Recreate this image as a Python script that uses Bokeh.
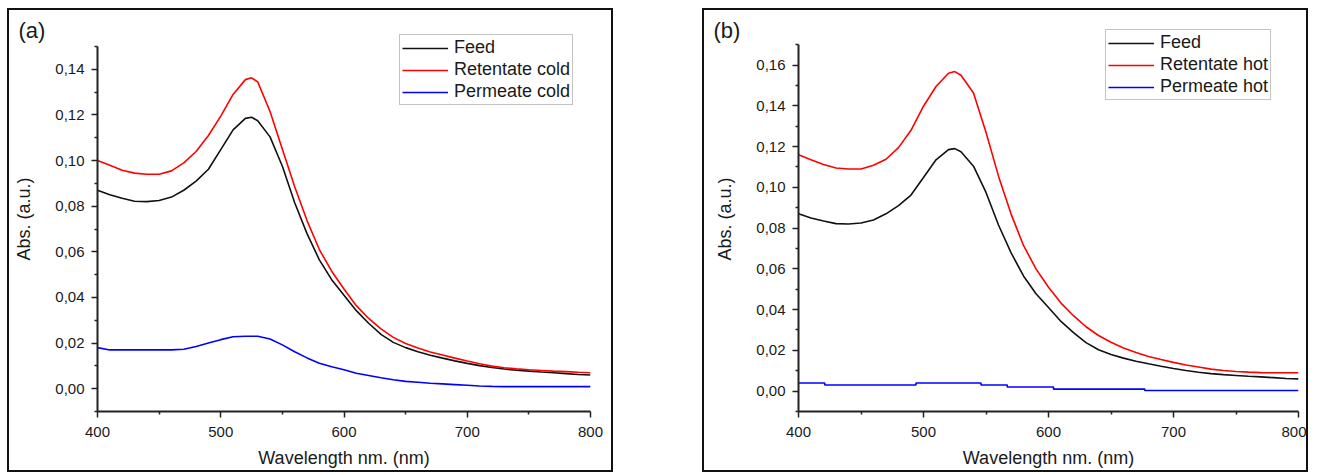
from bokeh.plotting import figure
from bokeh.layouts import row
from bokeh.models import (Range1d, Legend, LegendItem,
                          CustomJSTickFormatter, FixedTicker)
from bokeh.embed import file_html
from bokeh.resources import INLINE

# ---------------- data ----------------
wavelength = [400, 410, 420, 430, 440, 450, 460, 470, 480, 490, 500, 510, 520, 525,
              530, 540, 550, 560, 570, 580, 590, 600, 610, 620, 630, 640, 650, 660,
              670, 680, 690, 700, 710, 720, 730, 740, 750, 760, 770, 780, 790, 800]

feed = [0.0870, 0.0850, 0.0835, 0.0822, 0.0820, 0.0825, 0.0840, 0.0870, 0.0910, 0.0962,
        0.1048, 0.1135, 0.1185, 0.1190, 0.1175, 0.1104, 0.0975, 0.0815, 0.0680, 0.0565,
        0.0478, 0.0410, 0.0342, 0.0287, 0.0238, 0.0203, 0.0180, 0.0162, 0.0147, 0.0134,
        0.0122, 0.0111, 0.0101, 0.0093, 0.0086, 0.0081, 0.0077, 0.0073, 0.0070, 0.0066,
        0.0062, 0.0060]

retentate_cold = [0.1000, 0.0980, 0.0958, 0.0945, 0.0940, 0.0940, 0.0955, 0.0990, 0.1040,
                  0.1110, 0.1195, 0.1290, 0.1355, 0.1363, 0.1345, 0.1215, 0.1050, 0.0885,
                  0.0737, 0.0610, 0.0515, 0.0437, 0.0364, 0.0308, 0.0262, 0.0225, 0.0198,
                  0.0178, 0.0161, 0.0148, 0.0134, 0.0121, 0.0109, 0.0099, 0.0092, 0.0087,
                  0.0083, 0.0080, 0.0077, 0.0075, 0.0072, 0.0070]

permeate_cold = [0.0180, 0.0170, 0.0170, 0.0170, 0.0170, 0.0170, 0.0170, 0.0173, 0.0185,
                 0.0200, 0.0215, 0.0228, 0.0230, 0.0230, 0.0230, 0.0218, 0.0192, 0.0162,
                 0.0135, 0.0112, 0.0096, 0.0083, 0.0068, 0.0058, 0.0048, 0.0039, 0.0032,
                 0.0028, 0.0024, 0.0021, 0.0018, 0.0015, 0.0012, 0.0010, 0.0009, 0.0009,
                 0.0009, 0.0009, 0.0009, 0.0009, 0.0009, 0.0009]

retentate_hot = [0.1160, 0.1135, 0.1112, 0.1095, 0.1090, 0.1090, 0.1108, 0.1138, 0.1195,
                 0.1280, 0.1398, 0.1495, 0.1560, 0.1568, 0.1550, 0.1463, 0.1270, 0.1055,
                 0.0870, 0.0715, 0.0600, 0.0510, 0.0432, 0.0370, 0.0316, 0.0273, 0.0240,
                 0.0212, 0.0190, 0.0170, 0.0155, 0.0141, 0.0128, 0.0118, 0.0108, 0.0101,
                 0.0096, 0.0093, 0.0091, 0.0090, 0.0090, 0.0090]

permeate_hot_wl = [400, 421, 494, 546, 567, 604, 677, 800]
permeate_hot = [0.004, 0.003, 0.004, 0.003, 0.002, 0.001, 0.0003, 0.0003]

x_ticks = [400, 500, 600, 700, 800]
x_minor = [450, 550, 650, 750]
y_ticks_a = [0.00, 0.02, 0.04, 0.06, 0.08, 0.10, 0.12, 0.14]
y_minor_a = [-0.01, 0.01, 0.03, 0.05, 0.07, 0.09, 0.11, 0.13, 0.15]
y_ticks_b = [0.00, 0.02, 0.04, 0.06, 0.08, 0.10, 0.12, 0.14, 0.16]
y_minor_b = [-0.01, 0.01, 0.03, 0.05, 0.07, 0.09, 0.11, 0.13, 0.15, 0.17]

FONT = "Liberation Sans"
TXT = "#1a1a1a"


def make_panel(width, height, borders, y_axis_end, y_frame_end, yt, ym, tag, tag_offset,
               leg_loc, series, legend_labels):
    left, right, top, bottom = borders
    p = figure(width=width, height=height, output_backend="svg", toolbar_location=None,
               x_range=Range1d(400, 800), y_range=Range1d(-0.01, y_frame_end),
               min_border_left=left, min_border_right=right,
               min_border_top=top, min_border_bottom=bottom)
    p.outline_line_color = None
    p.xgrid.grid_line_color = None
    p.ygrid.grid_line_color = None
    p.styles = {"border": "2px solid #111"}

    p.xaxis.ticker = FixedTicker(ticks=x_ticks, minor_ticks=x_minor)
    p.yaxis.ticker = FixedTicker(ticks=yt, minor_ticks=ym)
    p.yaxis.bounds = (-0.01, y_axis_end)
    p.yaxis.formatter = CustomJSTickFormatter(code="return tick.toFixed(2).replace('.', ',');")

    for ax in (p.xaxis[0], p.yaxis[0]):
        ax.axis_line_width = 2
        ax.axis_line_color = "#222222"
        ax.major_tick_line_color = "#222222"
        ax.minor_tick_line_color = "#222222"
        ax.major_tick_line_width = 1.5
        ax.minor_tick_line_width = 1.5
        ax.major_tick_in = 0
        ax.major_tick_out = 6
        ax.minor_tick_in = 0
        ax.minor_tick_out = 3
        ax.major_label_text_font = FONT
        ax.major_label_text_font_size = "15px"
        ax.major_label_text_color = TXT
        ax.axis_label_text_font = FONT
        ax.axis_label_text_font_size = "18px"
        ax.axis_label_text_font_style = "normal"
        ax.axis_label_text_color = TXT
    p.xaxis.axis_label = "Wavelength nm. (nm)"
    p.yaxis.axis_label = "Abs. (a.u.)"
    p.xaxis.major_label_standoff = 9
    p.yaxis.major_label_standoff = 7
    p.xaxis.axis_label_standoff = 8
    p.yaxis.axis_label_standoff = 18

    p.title.text = tag
    p.title.align = "left"
    p.title.offset = tag_offset
    p.title.text_font = FONT
    p.title.text_font_size = "22px"
    p.title.text_font_style = "normal"
    p.title.text_color = TXT
    p.title.standoff = -32

    renderers = []
    for (xs, ys, color, kind) in series:
        if kind == "step":
            r = p.step(xs, ys, mode="after", line_color=color, line_width=1.6)
        else:
            r = p.line(xs, ys, line_color=color, line_width=1.6)
        renderers.append(r)

    legend = Legend(items=[LegendItem(label=l, renderers=[r])
                           for l, r in zip(legend_labels, renderers)],
                    location=leg_loc)
    legend.label_text_font = FONT
    legend.label_text_font_size = "18px"
    legend.label_text_color = TXT
    legend.glyph_width = 46
    legend.glyph_height = 20
    legend.label_height = 20
    legend.label_standoff = 6
    legend.spacing = 1
    legend.padding = 2
    legend.margin = 0
    legend.border_line_color = "#888888"
    legend.border_line_width = 1
    legend.background_fill_color = "white"
    legend.background_fill_alpha = 1
    p.add_layout(legend)
    return p


pa = make_panel(606, 464, (88, 25, 16, 63), 0.15, 0.15879, y_ticks_a, y_minor_a, "(a)",
                -79, (302, 306),
                [(wavelength, feed, "#111111", "line"),
                 (wavelength, retentate_cold, "#ff0000", "line"),
                 (wavelength, permeate_cold, "#0000ff", "line")],
                ["Feed", "Retentate cold", "Permeate cold"])

pb = make_panel(606, 464, (94, 12, 16, 60), 0.17, 0.17893, y_ticks_b, y_minor_b, "(b)",
                -85, (307, 311),
                [(wavelength, feed, "#111111", "line"),
                 (wavelength, retentate_hot, "#ff0000", "line"),
                 (permeate_hot_wl, permeate_hot, "#0000ff", "step")],
                ["Feed", "Retentate hot", "Permeate hot"])

layout = row(pa, pb, spacing=89, margin=(8, 0, 0, 7))

open("out.html", "w").write(file_html(layout, INLINE))
